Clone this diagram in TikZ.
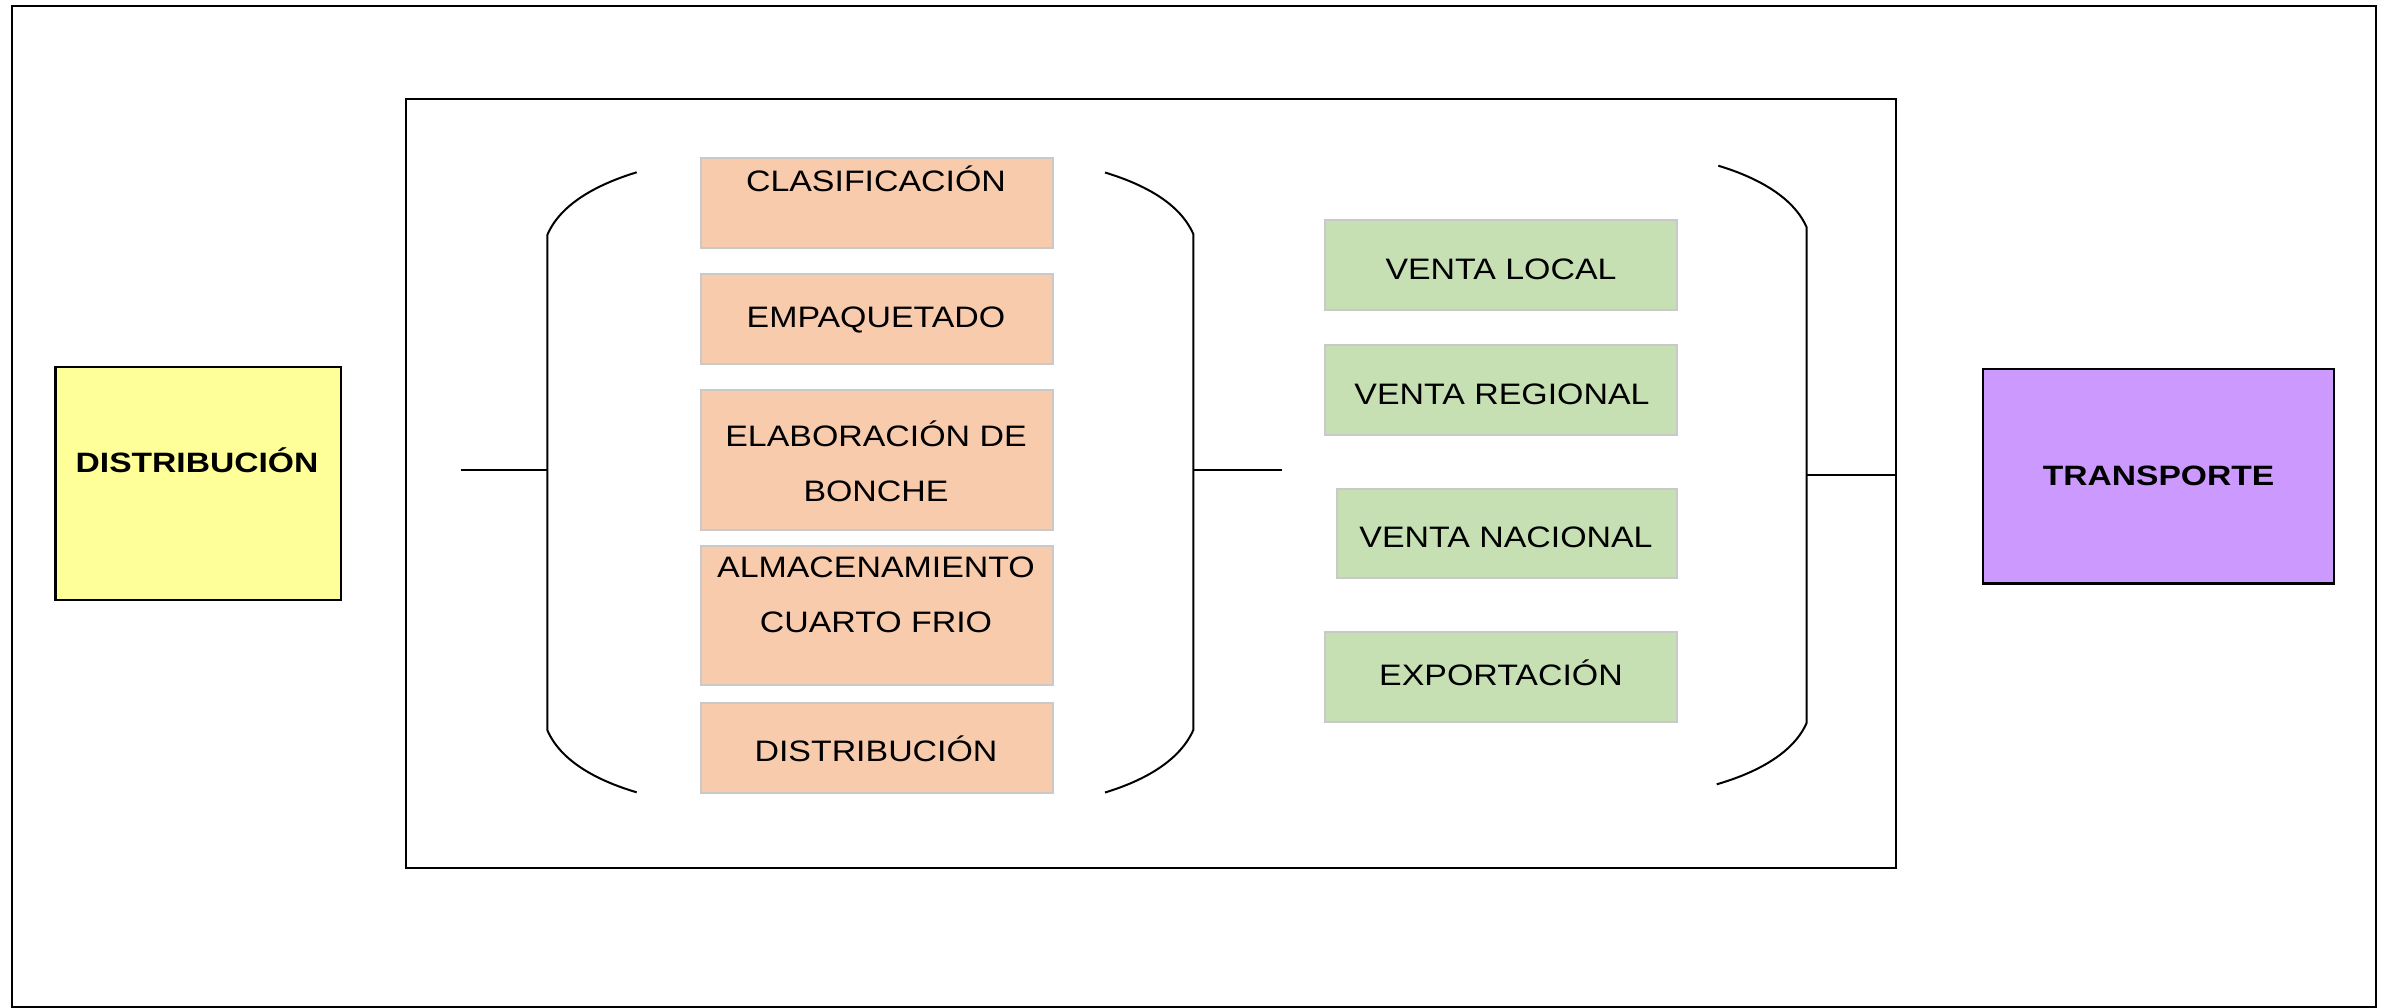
\documentclass[tikz,border=0pt]{standalone}
\usepackage{fontspec}
\setmainfont{Liberation Sans}[FakeStretch=1.145]
\newfontfamily\boldf{Liberation Sans}[FakeStretch=1.2]
\definecolor{oran}{HTML}{F8CBAD}
\definecolor{gree}{HTML}{C6E0B4}
\definecolor{yell}{HTML}{FFFF99}
\definecolor{purp}{HTML}{CC99FF}
\definecolor{boxgray}{HTML}{C9C9C9}
\begin{document}
\begin{tikzpicture}[x=1pt,y=-1pt,
  frame/.style={draw=black,line width=2.2pt,fill=none,inner sep=0pt,anchor=north west},
  obox/.style={draw=boxgray,line width=1.8pt,fill=oran,inner sep=0pt,anchor=north west},
  gbox/.style={draw=boxgray,line width=1.8pt,fill=gree,inner sep=0pt,anchor=north west},
  kbox/.style={draw=black,line width=2.2pt,inner sep=0pt,anchor=north west},
  txt/.style={inner sep=0pt,anchor=base,font=\fontsize{29.6}{35}\selectfont},
  btxt/.style={inner sep=0pt,anchor=base,font=\boldf\bfseries\fontsize{28}{34}\selectfont},
  ln/.style={draw=black,line width=2pt}]
\useasboundingbox (0,0) rectangle (2384,1007);
\fill[white] (0,0) rectangle (2384,1007);
% frames
\node[frame,minimum width=2364pt,minimum height=1000.5pt] (outer) at (11,5) {};
\node[frame,line width=2pt,minimum width=1489.7pt,minimum height=768.8pt] (inner) at (405,97.7) {};
% side boxes
\node[kbox,fill=yell,minimum width=285.7pt,minimum height=232.7pt] (yel) at (54.3,366) {};
\node[btxt] (yelT) at (197,472.7) {DISTRIBUCIÓN};
\node[kbox,fill=purp,minimum width=351.3pt,minimum height=214.3pt] (pur) at (1981.7,368) {};
\node[btxt] (purT) at (2158.5,485.5) {TRANSPORTE};
% orange boxes
\node[obox,minimum width=352pt,minimum height=90pt] (clas) at (700,156.7) {};
\node[obox,minimum width=352pt,minimum height=90pt] (emp) at (700,272.7) {};
\node[obox,minimum width=352pt,minimum height=139.7pt] (elab) at (700,389.3) {};
\node[obox,minimum width=352pt,minimum height=139pt] (alm) at (700,545) {};
\node[obox,minimum width=352pt,minimum height=89.4pt] (dist) at (700,702.3) {};
\node[txt] (clasT) at (876,191.7) {CLASIFICACIÓN};
\node[txt] (empT) at (876,327.3) {EMPAQUETADO};
\node[txt] (elabT) at (876,446.7) {ELABORACIÓN DE};
\node[txt] (elabU) at (876,501.7) {BONCHE};
\node[txt] (almT) at (876,577.3) {ALMACENAMIENTO};
\node[txt] (almU) at (876,632.7) {CUARTO FRIO};
\node[txt] (distT) at (876,761.7) {DISTRIBUCIÓN};
% green boxes
\node[gbox,minimum width=351.7pt,minimum height=89.7pt] (vl) at (1324.3,219.3) {};
\node[gbox,minimum width=351.7pt,minimum height=90pt] (vr) at (1324.3,344.3) {};
\node[gbox,minimum width=340.3pt,minimum height=89.6pt] (vn) at (1335.7,487.7) {};
\node[gbox,minimum width=351.7pt,minimum height=90pt] (ex) at (1324.3,630.7) {};
\node[txt] (vlT) at (1501,279.3) {VENTA LOCAL};
\node[txt] (vrT) at (1502,404) {VENTA REGIONAL};
\node[txt] (vnT) at (1506,547.3) {VENTA NACIONAL};
\node[txt] (exT) at (1501,685) {EXPORTACIÓN};
% braces
\draw[ln] (636.7,172.3) .. controls (595,185) and (560,205) .. (547.3,235)
  -- (547.3,730) .. controls (560,760) and (595,780) .. (636.7,792.3);
\draw[ln] (1105,172.5) .. controls (1146,185) and (1180,204) .. (1193.3,234)
  -- (1193.3,730) .. controls (1180,760) and (1146,780) .. (1105,792.5);
\draw[ln] (1718.3,165.7) .. controls (1759,178) and (1794,198) .. (1806.7,227.5)
  -- (1806.7,722.7) .. controls (1794,752) and (1759,772) .. (1716.7,784.3);
% connector stubs
\coordinate (lA) at (460.7,469.5);
\coordinate (lB) at (547.3,469.5);
\coordinate (mA) at (1193.3,469.5);
\coordinate (mB) at (1282,469.5);
\coordinate (rA) at (1806.7,475);
\draw[ln] (lA) -- (lB);
\draw[ln] (mA) -- (mB);
\draw[ln] (rA) -- (rA -| inner.east);
\end{tikzpicture}
\end{document}
